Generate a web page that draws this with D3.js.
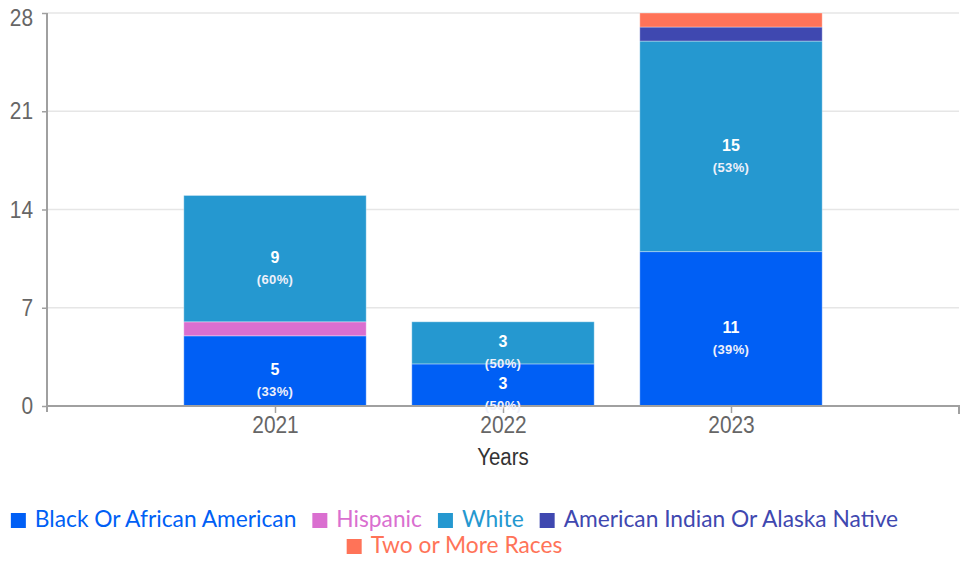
<!DOCTYPE html>
<html><head><meta charset="utf-8">
<script src="https://cdn.jsdelivr.net/npm/d3@7"></script>
<style>body{margin:0;background:#fff}svg{display:block}</style>
</head><body>
<svg id="c" width="964" height="562"></svg>
<script>
const years = [2021, 2022, 2023];
const seriesNames = ["Black Or African American", "Hispanic", "White", "American Indian Or Alaska Native", "Two or More Races"];
const seriesColors = ["#005ff5", "#da6fd0", "#2598d0", "#3f48b0", "#ff7358"];
const black = [5, 3, 11];
const hispanic = [1, 0, 0];
const white = [9, 3, 15];
const aian = [0, 0, 1];
const twoOrMore = [0, 0, 1];
const yTicks = [0, 7, 14, 21, 28];
const xLabel = "Years";

(function () {
const values = [black, hispanic, white, aian, twoOrMore];
const table = years.map((yr, i) => {
  const o = {year: yr};
  seriesNames.forEach((n, k) => o[n] = values[k][i]);
  return o;
});
const stacked = d3.stack().keys(seriesNames)(table);

const svg = d3.select("#c");
const mLeft = 47, mRight = 959, mTop = 13, mBottom = 406;
const x = d3.scaleLinear().domain([2020, 2024]).range([mLeft, mRight]);
const y = d3.scaleLinear().domain([0, 28]).range([mBottom, mTop]);
const bw = 0.8 * (x(2021) - x(2020));
const font = "'Liberation Sans', Arial, sans-serif";
const sx = 0.87;
function squeeze(el, ax) {
  d3.select(el).attr("transform", `translate(${ax},0) scale(${sx},1) translate(${-ax},0)`);
}

// grid
svg.append("g").selectAll("line").data(yTicks.slice(1)).join("line")
  .attr("x1", mLeft).attr("x2", mRight)
  .attr("y1", d => y(d)).attr("y2", d => y(d))
  .attr("stroke", "#e6e6e6").attr("stroke-width", 1.5);

// bars
const g = svg.append("g");
stacked.forEach((s, k) => {
  g.selectAll(null).data(s.filter(d => d[1] - d[0] > 0)).join("rect")
    .attr("x", d => x(d.data.year) - bw / 2)
    .attr("width", bw)
    .attr("y", d => y(d[1]))
    .attr("height", d => y(d[0]) - y(d[1]))
    .attr("fill", seriesColors[k])
    .attr("stroke", "rgba(255,255,255,0.35)").attr("stroke-width", 1);
});

// axes
const yAxis = svg.append("g").attr("transform", `translate(${mLeft},0)`)
  .call(d3.axisLeft(y).tickValues(yTicks).tickSize(5).tickPadding(9));
const xAxis = svg.append("g").attr("transform", `translate(0,${mBottom})`)
  .call(d3.axisBottom(x).tickValues(years).tickFormat(d3.format("d")).tickSize(7).tickPadding(3).tickSizeOuter(0));
[yAxis, xAxis].forEach(a => {
  a.select(".domain").attr("stroke", "#a0a0a0").attr("stroke-width", 2);
  a.selectAll(".tick line").attr("stroke", "#a0a0a0").attr("stroke-width", 1.5);
  a.selectAll(".tick text").attr("fill", "#666").attr("font-family", font).attr("font-size", 24);
});
yAxis.select(".domain").attr("d", `M0,${mTop}V${mBottom + 6}`);
xAxis.select(".domain").attr("d", `M${mLeft},0H${mRight}V8`);
yAxis.selectAll(".tick text").each(function (d) {
  const shift = Math.max(0, 18 - y(d));
  d3.select(this).attr("y", shift);
  squeeze(this, -14);
});
xAxis.selectAll(".tick text").each(function () { squeeze(this, 0); });

const xl = svg.append("text").attr("x", x(2022)).attr("y", 465).attr("text-anchor", "middle")
  .attr("font-family", font).attr("font-size", 23.5).attr("fill", "#333").text(xLabel);
squeeze(xl.node(), x(2022));

// labels
const lab = svg.append("g").attr("font-family", font).attr("fill", "#fff").attr("text-anchor", "middle").attr("font-weight", "bold");
stacked.forEach((s, k) => {
  s.forEach(d => {
    const v = d[1] - d[0];
    const tot = seriesNames.reduce((a, n) => a + d.data[n], 0);
    if (v < 3) return;
    const mid = (y(d[0]) + y(d[1])) / 2;
    lab.append("text").attr("x", x(d.data.year)).attr("y", mid + 4.5).attr("font-size", 16).text(v);
    lab.append("text").attr("x", x(d.data.year)).attr("y", mid + 25.5).attr("font-size", 13).attr("letter-spacing", 0.4)
      .attr("fill", "#eef0fa").text(`(${Math.floor(v / tot * 100)}%)`);
  });
});

// legend
const lf = "Lato, sans-serif";
const lfs = 22.75;
const rows = [[0, 1, 2, 3], [4]];
const rowY = [520.5, 546.5];
const leg = svg.append("g");
const meas = svg.append("text").attr("font-family", lf).attr("font-size", lfs);
const box = 15, boxGap = 25, gap = 15, centre = 454;
rows.forEach((r, ri) => {
  const widths = r.map(k => { meas.text(seriesNames[k]); return boxGap + meas.node().getComputedTextLength(); });
  const total = d3.sum(widths) + gap * (r.length - 1);
  let cx = centre - total / 2;
  r.forEach((k, j) => {
    leg.append("rect").attr("x", cx + 1).attr("y", rowY[ri] - box / 2).attr("width", box).attr("height", box).attr("fill", seriesColors[k]);
    leg.append("text").attr("x", cx + boxGap).attr("y", rowY[ri] + 6.5).attr("font-family", lf).attr("font-size", lfs)
      .attr("fill", seriesColors[k]).text(seriesNames[k]);
    cx += widths[j] + gap;
  });
});
meas.remove();
})();
</script>
</body></html>
